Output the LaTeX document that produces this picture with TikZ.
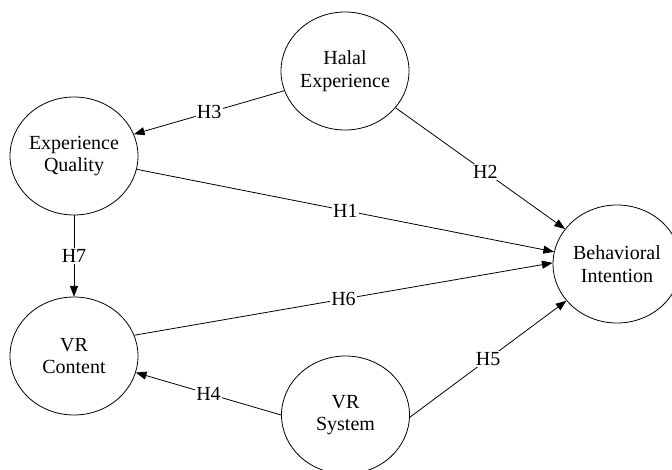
\documentclass[tikz,border=0pt]{standalone}
\usepackage{fontspec}
\setmainfont{Liberation Serif}
\usetikzlibrary{shapes.geometric,arrows.meta}
\begin{document}
\begin{tikzpicture}[x=0.75pt,y=-0.75pt,
  construct/.style={draw, ellipse, line width=0.6pt, minimum width=96pt, minimum height=88.5pt, inner sep=0pt, align=center, font=\fontsize{15}{16.8}\selectfont},
  path/.style={draw, line width=0.6pt, -{Triangle[length=8pt,width=6pt]}},
  hyp/.style={fill=white, inner sep=1pt, font=\fontsize{15}{16.8}\selectfont}]
\fill[white] (0,0) rectangle (672,469);
\useasboundingbox (0,0) rectangle (672,469);
\node[construct] (HE) at (345,71) {Halal\\Experience};
\node[construct] (EQ) at (74,156) {Experience\\Quality};
\node[construct] (VC) at (74,356) {VR\\Content};
\node[construct] (VS) at (345.5,415) {VR\\System};
\node[construct] (BI) at (617,264) {Behavioral\\Intention};
\draw[path] (HE.198) -- node[hyp] (h3) {H3} (EQ.20);
\draw[path] (HE.324) -- node[hyp, pos=0.53] (h2) {H2} (BI.146);
\draw[path] (EQ.348) -- node[hyp] (h1) {H1} (BI.169);
\draw[path] (EQ.270) -- node[hyp] (h7) {H7} (VC.90);
\draw[path] (VC.19) -- node[hyp] (h6) {H6} (BI.179);
\draw[path] (VS.180) -- node[hyp] (h4) {H4} (VC.345);
\draw[path] (VS.358) -- node[hyp] (h5) {H5} (BI.216);
\end{tikzpicture}
\end{document}
